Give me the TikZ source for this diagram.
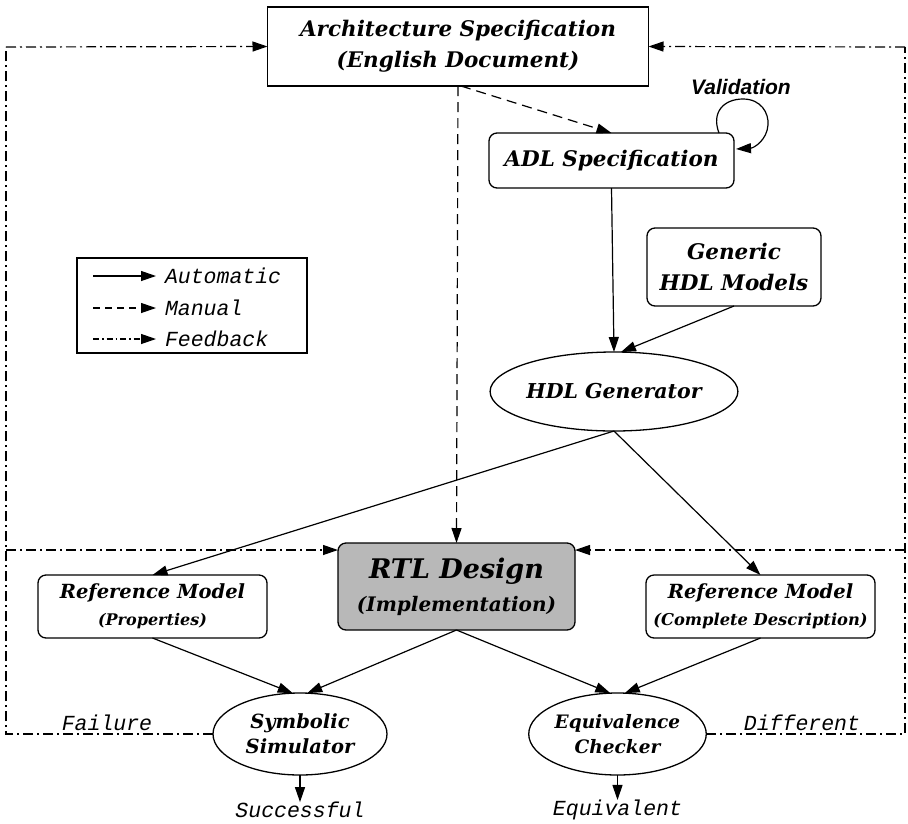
\documentclass[tikz,border=0pt]{standalone}
\usepackage{fontspec}
\setmainfont{DejaVu Serif}
\newfontfamily\valfont{Liberation Sans}
\newfontfamily\codefont{Liberation Mono}
\usetikzlibrary{arrows.meta,shapes.geometric}

\begin{document}
\begin{tikzpicture}[x=1pt,y=-1pt,
  >={Triangle[length=15pt,width=10pt]},
  every node/.style={inner sep=0pt, outer sep=0pt},
  lbl/.style={font=\bfseries\itshape\fontsize{21.5}{31}\selectfont, align=center},
  box/.style={draw, line width=1.3pt, lbl},
  rbox/.style={box, rounded corners=8pt},
  ell/.style={box, ellipse},
  code/.style={font=\codefont\itshape\fontsize{21.5}{24}\selectfont},
  autoflow/.style={->, line width=1.2pt},
  manualflow/.style={->, line width=1.2pt, dash pattern=on 10pt off 6pt},
  fbflow/.style={line width=1.2pt, dash pattern=on 10pt off 4pt on 2pt off 4pt},
]
\useasboundingbox (0,0) rectangle (908,823);

% ---- main blocks ----
\node[box, minimum width=381pt, minimum height=79pt] (AS) at (458,46.5)
  {Architecture Specification\\(English Document)};
\node[rbox, minimum width=245pt, minimum height=55pt] (ADL) at (611.5,160.5)
  {ADL Specification};
\node[rbox, minimum width=174pt, minimum height=78pt] (GH) at (734,267)
  {Generic\\HDL Models};
\node[ell, minimum width=206pt, minimum height=79pt, font=\bfseries\itshape\fontsize{20.5}{31}\selectfont] (HG) at (614,391.5)
  {HDL Generator};
\node[rbox, fill=black!28, minimum width=237pt, minimum height=87pt] (RTL) at (456.5,586.5)
  {\fontsize{27}{30}\selectfont RTL Design\\[2pt]\fontsize{20}{28}\selectfont (Implementation)};
\node[rbox, minimum width=229pt, minimum height=63pt, font=\bfseries\itshape\fontsize{19.5}{31}\selectfont] (RP) at (152.5,606.5)
  {Reference Model\\[-4pt]\fontsize{16}{26}\selectfont (Properties)};
\node[rbox, minimum width=229pt, minimum height=63pt, font=\bfseries\itshape\fontsize{19.5}{31}\selectfont] (RC) at (760.5,606.5)
  {Reference Model\\[-4pt]\fontsize{16.3}{26}\selectfont (Complete Description)};
\node[ell, minimum width=174pt, minimum height=82pt, font=\bfseries\itshape\fontsize{19.5}{25}\selectfont] (SS) at (300,734)
  {Symbolic\\Simulator};
\node[ell, minimum width=175pt, minimum height=82pt, font=\bfseries\itshape\fontsize{18.5}{25}\selectfont] (EC) at (617.5,734)
  {Equivalence\\Checker};

% ---- outcome labels ----
\node[code] (succ) at (300,810) {Successful};
\node[code] (equiv) at (617.5,810) {Equivalent};
\node[code] (fail) at (107,723) {Failure};
\node[code] (diff) at (802,723) {Different};
\node[font=\valfont\bfseries\itshape\fontsize{21}{24}\selectfont] (val) at (741,87) {Validation};

% ---- legend ----
\node[draw, line width=1.3pt, minimum width=230pt, minimum height=95pt] (leg) at (192,305.5) {};
\coordinate (la) at (93,276);  \coordinate (lb) at (156,276);
\coordinate (ma) at (93,308);  \coordinate (mb) at (156,308);
\coordinate (fa) at (93,339);  \coordinate (fb) at (156,339);
\draw[autoflow] (la) -- (lb);
\draw[manualflow, dash pattern=on 7pt off 5pt] (ma) -- (mb);
\draw[fbflow, ->, dash pattern=on 6pt off 3pt on 1.5pt off 3pt] (fa) -- (fb);
\node[code, anchor=west] (lauto) at (165,276) {Automatic};
\node[code, anchor=west] (lman) at (165,308) {Manual};
\node[code, anchor=west] (lfb) at (165,339) {Feedback};

% ---- manual flows ----
\draw[manualflow] (AS.south) -- (RTL.north);
\draw[manualflow] (AS.south) ++(3,0) coordinate (asd) (asd) -- (ADL.north);

% ---- validation loop ----
\coordinate (v0) at (719,133);
\coordinate (v1) at (736,149);
\draw[autoflow] (v0) .. controls (711,112) and (724,99) .. (743,99)
  .. controls (761,99) and (769,113) .. (768,125)
  .. controls (767,140) and (754,148) .. (v1);

% ---- automatic flows ----
\draw[autoflow] (ADL.south) -- (HG.north);
\draw[autoflow] (GH.south) -- (HG.80);
\draw[autoflow] (HG.south) -- (RP.north);
\draw[autoflow] (HG.south) -- (RC.north);
\draw[autoflow] (RP.south) -- (SS.100);
\draw[autoflow] (RTL.south) -- (SS.80);
\draw[autoflow] (RTL.south) -- (EC.100);
\draw[autoflow] (RC.south) -- (EC.80);
\draw[autoflow] (SS.south) -- (succ.north);
\draw[autoflow] (EC.south) -- (equiv.north);

% ---- feedback loops ----
\coordinate (fbl) at (6,550);
\coordinate (fbr) at (905,550);
\draw[fbflow] (SS.west) -| (6,47);
\draw[fbflow, ->] (6,47) -- (AS.west);
\draw[fbflow, ->] (fbl) -- (fbl -| RTL.west);
\draw[fbflow] (EC.east) -| (905,47);
\draw[fbflow, ->] (905,47) -- (AS.east);
\draw[fbflow, ->] (fbr) -- (fbr -| RTL.east);
\end{tikzpicture}
\end{document}
